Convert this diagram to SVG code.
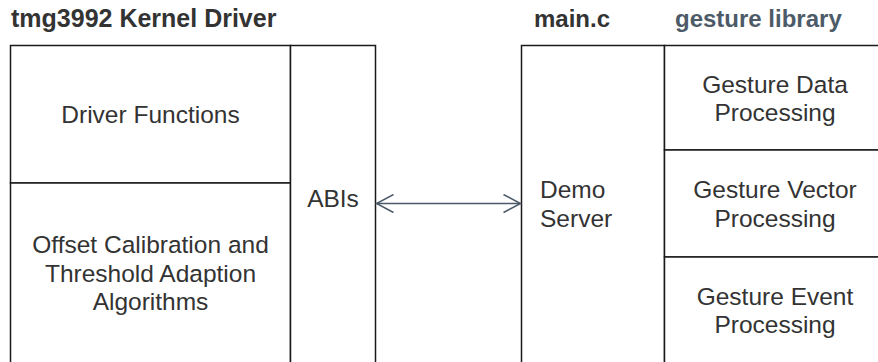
<svg xmlns="http://www.w3.org/2000/svg" width="878" height="362" viewBox="0 0 878 362">
<style>
.box{fill:#ffffff;stroke:#1a1a1a;stroke-width:1.5}
.t{font-family:"Liberation Sans",Arial,Helvetica,sans-serif;font-size:24.5px;fill:#333333}
.c{text-anchor:middle}
.h{font-family:"Liberation Sans",Arial,Helvetica,sans-serif;font-size:24px;font-weight:bold}
.conn{stroke:#4a5a6a;stroke-width:1.5;fill:none}
</style>
<defs>
<marker id="open" viewBox="0 0 20 20" refX="18" refY="10" markerWidth="20" markerHeight="20" markerUnits="userSpaceOnUse" orient="auto-start-reverse">
<path d="M1,1 L18,10 L1,19" fill="none" stroke="#4a5a6a" stroke-width="1.5"/>
</marker>
</defs>
<g id="titles">
<text class="h" x="11" y="27" fill="#333333" style="font-size:25px">tmg3992 Kernel Driver</text>
<text class="h" x="534" y="27" fill="#333333">main.c</text>
<text class="h" x="675" y="27" fill="#4d5b69">gesture library</text>
</g>
<g id="driver-functions">
<rect class="box" x="10.5" y="45.5" width="280" height="137.5"/>
<text class="t c" x="150.5" y="123">Driver Functions</text>
</g>
<g id="offset-calibration">
<rect class="box" x="10.5" y="183" width="280" height="185"/>
<text class="t c" x="150.5" y="253">Offset Calibration and</text>
<text class="t c" x="150.5" y="281.5">Threshold Adaption</text>
<text class="t c" x="150.5" y="310">Algorithms</text>
</g>
<g id="abis">
<rect class="box" x="290.5" y="45.5" width="85" height="322.5"/>
<text class="t c" x="333" y="206.5">ABIs</text>
</g>
<g id="demo-server">
<rect class="box" x="521.5" y="45.5" width="143" height="322.5"/>
<text class="t" x="540" y="198">Demo</text>
<text class="t" x="540" y="227">Server</text>
</g>
<g id="gesture-data">
<rect class="box" x="664.5" y="45.5" width="221" height="104.5"/>
<text class="t c" x="775" y="92.5">Gesture Data</text>
<text class="t c" x="775" y="121">Processing</text>
</g>
<g id="gesture-vector">
<rect class="box" x="664.5" y="150" width="221" height="107"/>
<text class="t c" x="775" y="198">Gesture Vector</text>
<text class="t c" x="775" y="226.5">Processing</text>
</g>
<g id="gesture-event">
<rect class="box" x="664.5" y="257" width="221" height="111"/>
<text class="t c" x="775" y="305">Gesture Event</text>
<text class="t c" x="775" y="333">Processing</text>
</g>
<g id="connectors">
<line class="conn" x1="376.5" y1="203.5" x2="520.5" y2="203.5" marker-start="url(#open)" marker-end="url(#open)"/>
</g>
</svg>
